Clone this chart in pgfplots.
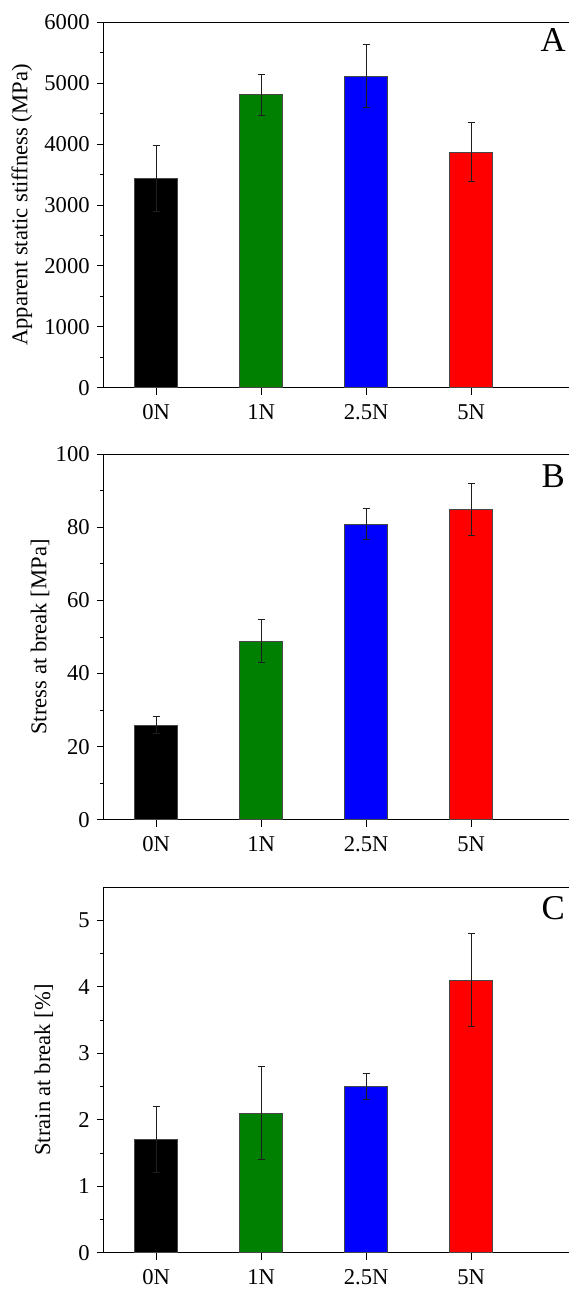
\documentclass[border=0pt]{standalone}
\usepackage{fontspec}
\setmainfont{Liberation Serif}
\usepackage{pgfplots}
\pgfplotsset{compat=1.18}
\definecolor{cgreen}{RGB}{0,128,0}
\definecolor{cblue}{RGB}{0,0,255}
\definecolor{cred}{RGB}{255,0,0}
\definecolor{edge}{RGB}{70,70,70}
\definecolor{ebar}{RGB}{30,30,30}
\pgfplotsset{
  panel/.style={
    scale only axis, width=232.65pt, height=182.7pt,
    anchor=south west,
    axis x line*=box, axis y line*=left,
    axis line style={-, line width=0.6pt},
    tick pos=left,
    xmin=-0.5, xmax=3.933,
    xtick={0,1,2,3}, xticklabels={0N,1N,2.5N,5N},
    tick align=outside,
    major tick length=3.5pt, minor tick length=2pt,
    tick style={line width=0.5pt, black},
    minor y tick num=1,
    ymin=0,
    scaled y ticks=false,
    /pgf/number format/1000 sep={},
    /pgf/number format/assume math mode=true,
    tick label style={font=\fontsize{11.3}{13}\selectfont},
    xticklabel style={yshift=-1.5pt},
    label style={font=\fontsize{11.3}{13}\selectfont},
    error bars/error bar style={line width=0.5pt, ebar},
    error bars/error mark options={rotate=90, line width=0.5pt, ebar, mark size=1.75pt},
  },
  bars/.style={ybar, bar width=21.3pt, bar shift=0pt, draw=edge, line width=0.5pt,
    error bars/y dir=both, error bars/y explicit},
}
\begin{document}
\begin{tikzpicture}
\path[use as bounding box] (0,0) rectangle (284.5pt,-645pt);
% Panel A
\begin{axis}[panel, at={(51.85pt,-193.85pt)},
  ymax=6000, ytick={0,1000,2000,3000,4000,5000,6000},
  ylabel={Apparent static stiffness (MPa)},
  ylabel style={at={(axis description cs:-0.176,0.5)}, anchor=center}]
\addplot[bars, fill=black] coordinates {(0,3440) +- (0,540)};
\addplot[bars, fill=cgreen] coordinates {(1,4810) +- (0,340)};
\addplot[bars, fill=cblue] coordinates {(2,5115) +- (0,520)};
\addplot[bars, fill=cred] coordinates {(3,3870) +- (0,490)};
\node[font=\fontsize{17.4}{20}\selectfont, anchor=center] at (rel axis cs:0.966,0.952) {A};
\end{axis}
% Panel B
\begin{axis}[panel, at={(51.85pt,-409.85pt)},
  ymax=100, ytick={0,20,40,60,80,100},
  ylabel={Stress at break [MPa]},
  ylabel style={at={(axis description cs:-0.137,0.5)}, anchor=center}]
\addplot[bars, fill=black] coordinates {(0,25.9) +- (0,2.4)};
\addplot[bars, fill=cgreen] coordinates {(1,48.9) +- (0,5.8)};
\addplot[bars, fill=cblue] coordinates {(2,80.9) +- (0,4.2)};
\addplot[bars, fill=cred] coordinates {(3,84.9) +- (0,7.1)};
\node[font=\fontsize{17.4}{20}\selectfont, anchor=center] at (rel axis cs:0.966,0.94) {B};
\end{axis}
% Panel C
\begin{axis}[panel, at={(51.85pt,-626.35pt)},
  ymax=5.5, ytick={0,1,2,3,4,5},
  ylabel={Strain at break [\%]},
  ylabel style={at={(axis description cs:-0.129,0.5)}, anchor=center}]
\addplot[bars, fill=black] coordinates {(0,1.7) +- (0,0.5)};
\addplot[bars, fill=cgreen] coordinates {(1,2.1) +- (0,0.7)};
\addplot[bars, fill=cblue] coordinates {(2,2.5) +- (0,0.2)};
\addplot[bars, fill=cred] coordinates {(3,4.1) +- (0,0.7)};
\node[font=\fontsize{17.4}{20}\selectfont, anchor=center] at (rel axis cs:0.966,0.942) {C};
\end{axis}
\end{tikzpicture}
\end{document}
